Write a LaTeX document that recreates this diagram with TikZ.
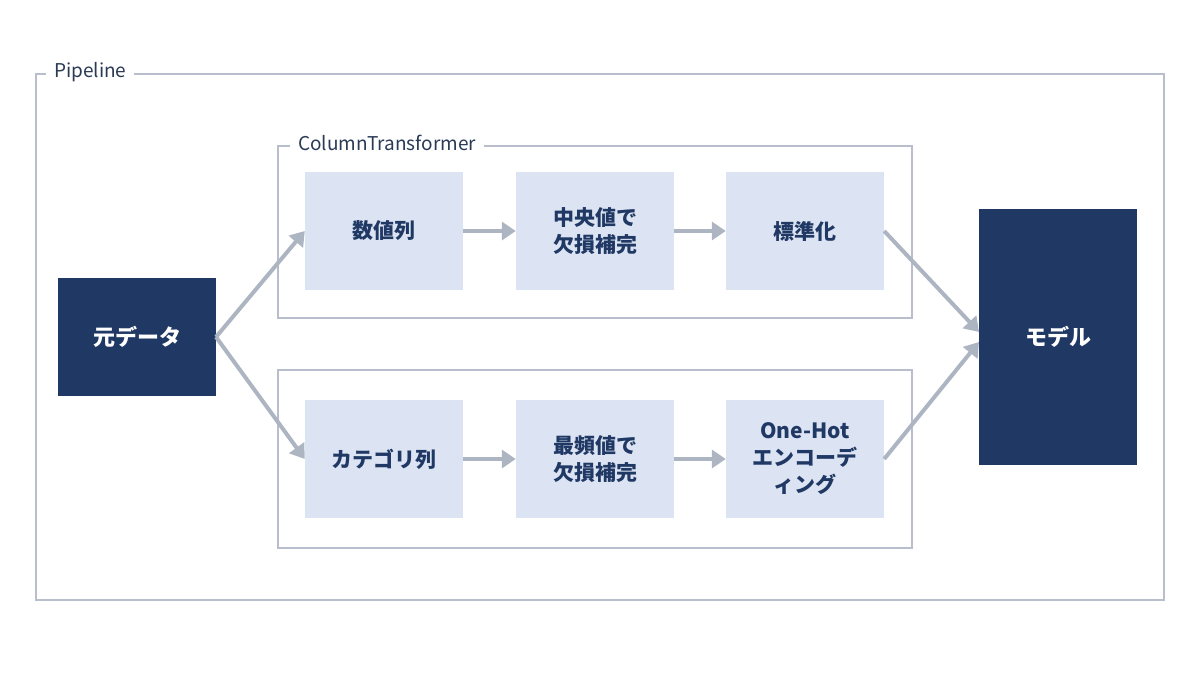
\documentclass[tikz,border=0pt]{standalone}
\usepackage{fontspec}
\setmainfont{Noto Sans CJK JP}
\usetikzlibrary{arrows.meta}
\definecolor{navy}{HTML}{1F3864}
\definecolor{lite}{HTML}{DCE3F2}
\definecolor{arr}{HTML}{AEB5C2}
\definecolor{brd}{HTML}{B8BECB}
\definecolor{txt}{HTML}{2B3A55}
\begin{document}
\begin{tikzpicture}[x=1pt,y=-1pt,
  frame/.style={draw=brd,line width=2pt},
  box/.style={fill=lite,minimum width=158pt,minimum height=118pt,align=center,text=navy,font=\fontsize{21}{27}\selectfont\bfseries,inner sep=0pt},
  dark/.style={fill=navy,minimum width=158pt,align=center,text=white,font=\fontsize{22}{27}\selectfont\bfseries,inner sep=0pt},
  lab/.style={fill=white,text=txt,font=\fontsize{19}{22}\selectfont,inner xsep=8pt,anchor=west},
  ar/.style={draw=arr,line width=4pt,-{Triangle[length=14pt,width=18pt]}}]
\useasboundingbox (0,0) rectangle (1200,675);
\draw[frame] (36,74) rectangle (1164,600);
\node[lab] (pl) at (46,72) {Pipeline};
\draw[frame] (278,146) rectangle (912,318);
\node[lab] (ct) at (290,143) {ColumnTransformer};
\draw[frame] (278,370) rectangle (912,548);
\node[box] (a1) at (384,231) {数値列};
\node[box] (a2) at (595,231) {中央値で\\欠損補完};
\node[box] (a3) at (805,231) {標準化};
\node[box] (b1) at (384,459) {カテゴリ列};
\node[box] (b2) at (595,459) {最頻値で\\欠損補完};
\node[box] (b3) at (805,459) {One-Hot\\エンコーデ\\ィング};
\node[dark,minimum height=118pt] (src) at (137,337) {元データ};
\node[dark,minimum height=256pt] (mdl) at (1058,337) {モデル};
\coordinate (s) at (216,337);
\coordinate (m1) at (979,332);
\coordinate (m2) at (979,342);
\draw[ar] (s) -- (a1.west);
\draw[ar] (s) -- (b1.west);
\draw[ar] (a1.east) -- (a2.west);
\draw[ar] (a2.east) -- (a3.west);
\draw[ar] (b1.east) -- (b2.west);
\draw[ar] (b2.east) -- (b3.west);
\draw[ar] (a3.east) -- (m1);
\draw[ar] (b3.east) -- (m2);
\end{tikzpicture}
\end{document}
